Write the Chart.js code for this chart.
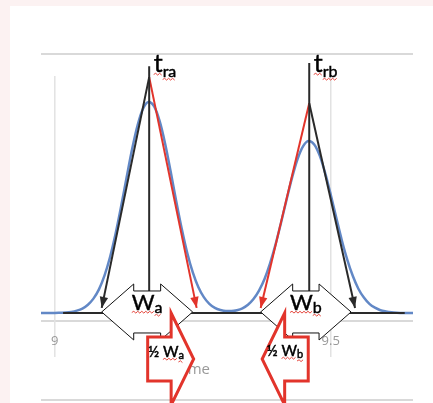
<!DOCTYPE html>
<html><head><meta charset="utf-8">
<script src="https://cdn.jsdelivr.net/npm/chart.js@4"></script>
<style>
html,body{margin:0;padding:0;background:#fcf2f2;}
#wrap{position:relative;width:433px;height:403px;overflow:hidden;}
#panel{position:absolute;left:10px;top:6px;right:0;bottom:0;background:#fff;}
canvas{position:absolute;left:0;top:0;}
</style></head><body>
<div id="wrap"><div id="panel"></div><canvas id="c" width="433" height="403"></canvas></div>
<script>
// ---- data (time axis units / relative detector response) ----
const times = [8.97,8.98,8.99,9.00,9.01,9.02,9.03,9.04,9.05,9.06,9.07,9.08,9.09,9.10,9.11,9.12,9.13,9.14,9.15,9.16,9.17,9.18,9.19,9.20,9.21,9.22,9.23,9.24,9.25,9.26,9.27,9.28,9.29,9.30,9.31,9.32,9.33,9.34,9.35,9.36,9.37,9.38,9.39,9.40,9.41,9.42,9.43,9.44,9.45,9.46,9.47,9.48,9.49,9.50,9.51,9.52,9.53,9.54,9.55,9.56,9.57,9.58,9.59,9.60,9.61,9.62,9.63,9.64,9.65];
const signal = [0,0,0,0,0.001,0.002,0.005,0.011,0.021,0.039,0.068,0.112,0.177,0.264,0.374,0.503,0.641,0.776,0.890,0.969,1.000,0.979,0.909,0.801,0.669,0.530,0.399,0.284,0.192,0.123,0.075,0.043,0.024,0.014,0.009,0.009,0.013,0.022,0.039,0.066,0.106,0.161,0.235,0.325,0.429,0.538,0.643,0.731,0.791,0.815,0.799,0.746,0.662,0.560,0.451,0.345,0.252,0.175,0.115,0.073,0.043,0.025,0.013,0.007,0.003,0.001,0,0,0];
const tickValues = [9, 9.5];
const tickLabels = ['9', '9.5'];
const axisTitle = 'Time';
const peakNames = ['a', 'b'];
const peakTimes = [9.171, 9.461];      // retention times t_ra, t_rb
const retentionTop = [1.170, 1.185];   // top of retention-time markers
const tangentApex = [1.118, 0.994];    // where the tangents meet
const baseLeft = [9.085, 9.373];       // tangent / baseline intersections
const baseRight = [9.257, 9.544];
const tangentFoot = 0.024;
const baselineSpan = [9.015, 9.634];
const xRange = [8.975, 9.649];
const yRange = [-0.038, 1.2275];

// ---- styles ----
const BLACK = '#2a2a2a', RED = '#e2342b', BLUE = '#6288c6';
const leftColors = [BLACK, RED], rightColors = [RED, BLACK];

const lineDS = (pts, color, order, w) => ({data: pts, showLine: true, borderColor: color, backgroundColor: color,
  borderWidth: w || 2, pointRadius: 0, order: order, tension: 0});

const datasets = [];
datasets.push(Object.assign(lineDS(times.map((t, i) => ({x: t, y: signal[i]})), BLUE, 10, 2.5),
  {cubicInterpolationMode: 'monotone'}));
datasets.push(lineDS(baselineSpan.map(t => ({x: t, y: 0})), BLACK, 5, 2));
const tangentIdx = [];
peakTimes.forEach((t, i) => {
  tangentIdx.push(datasets.length);
  datasets.push(lineDS([{x: t, y: tangentApex[i]}, {x: baseLeft[i], y: tangentFoot}], leftColors[i], 2, 2));
  tangentIdx.push(datasets.length);
  datasets.push(lineDS([{x: t, y: tangentApex[i]}, {x: baseRight[i], y: tangentFoot}], rightColors[i], 2, 2));
  datasets.push(lineDS([{x: t, y: retentionTop[i]}, {x: t, y: 0}], BLACK, 1, 2));
});

function seg(ctx, x1, y1, x2, y2) { ctx.beginPath(); ctx.moveTo(x1, y1); ctx.lineTo(x2, y2); ctx.stroke(); }
function wavy(ctx, x1, x2, y) {
  ctx.save(); ctx.strokeStyle = '#e5453c'; ctx.lineWidth = 1; ctx.beginPath();
  let up = true; ctx.moveTo(x1, y);
  for (let xx = x1 + 2; xx <= x2; xx += 2) { ctx.lineTo(xx, up ? y - 1.2 : y + 0.6); up = !up; }
  ctx.stroke(); ctx.restore();
}
function heavyText(ctx, s, x, y) {
  ctx.fillText(s, x, y);
  ctx.lineWidth = 0.45; ctx.strokeStyle = '#000'; ctx.strokeText(s, x, y);
}
function subText(ctx, x, y, main, sub, mainFont, subFont, drop, align, squiggleFrom) {
  ctx.font = mainFont; const wm = ctx.measureText(main).width;
  ctx.font = subFont; const ws = ctx.measureText(sub).width;
  const total = wm + ws;
  let sx = align === 'center' ? x - total / 2 : align === 'right' ? x - total : x;
  ctx.fillStyle = '#000'; ctx.textBaseline = 'alphabetic'; ctx.textAlign = 'left';
  ctx.font = mainFont; heavyText(ctx, main, sx, y);
  ctx.font = subFont; heavyText(ctx, sub, sx + wm, y + drop);
  let sqStart = sx;
  if (squiggleFrom) { ctx.font = mainFont; sqStart = sx + ctx.measureText(squiggleFrom).width; }
  wavy(ctx, sqStart, sx + wm, y + 2.5);
  wavy(ctx, sx + wm, sx + total, y + drop + 2.5);
}
function lrArrow(ctx, xl, xr, yc, hl, hh, sh) {
  ctx.beginPath();
  ctx.moveTo(xl, yc); ctx.lineTo(xl + hl, yc - hh); ctx.lineTo(xl + hl, yc - sh);
  ctx.lineTo(xr - hl, yc - sh); ctx.lineTo(xr - hl, yc - hh); ctx.lineTo(xr, yc);
  ctx.lineTo(xr - hl, yc + hh); ctx.lineTo(xr - hl, yc + sh); ctx.lineTo(xl + hl, yc + sh);
  ctx.lineTo(xl + hl, yc + hh); ctx.closePath();
  ctx.fillStyle = '#fff'; ctx.fill(); ctx.strokeStyle = '#111'; ctx.lineWidth = 1; ctx.stroke();
}
function blockArrow(ctx, xTail, xTip, yc, hl, hh, sh) {
  const d = Math.sign(xTip - xTail), xb = xTip - d * hl;
  ctx.beginPath();
  ctx.moveTo(xTail, yc - sh); ctx.lineTo(xb, yc - sh); ctx.lineTo(xb, yc - hh); ctx.lineTo(xTip, yc);
  ctx.lineTo(xb, yc + hh); ctx.lineTo(xb, yc + sh); ctx.lineTo(xTail, yc + sh); ctx.closePath();
  ctx.fillStyle = '#fff'; ctx.fill(); ctx.strokeStyle = RED; ctx.lineWidth = 3; ctx.lineJoin = 'miter'; ctx.stroke();
}

const decor = {
  id: 'decor',
  beforeDraw(chart) {
    const {ctx, chartArea: a, scales: {x}} = chart;
    ctx.save();
    ctx.strokeStyle = '#d9d9d9'; ctx.lineWidth = 2;
    [a.top, a.bottom, chart.height - 3].forEach(yy => seg(ctx, a.left, yy, a.right, yy));
    ctx.strokeStyle = '#e2e2e2'; ctx.lineWidth = 1.5;
    tickValues.forEach(v => { const px = x.getPixelForValue(v); seg(ctx, px, a.top + 22, px, a.bottom + 36); });
    ctx.restore();
  },
  beforeDatasetsDraw(chart) {
    const {ctx, chartArea: a, scales: {x}} = chart;
    ctx.save();
    const cx = x.getPixelForValue((tickValues[0] + tickValues[1]) / 2);
    ctx.font = '15px "Open Sans"'; ctx.fillStyle = '#999'; ctx.textAlign = 'center'; ctx.textBaseline = 'middle';
    ctx.fillText(axisTitle, cx, a.bottom + 49);
    ctx.restore();
  },
  afterDatasetsDraw(chart) {
    const {ctx, chartArea: a, scales: {x, y}} = chart;
    ctx.save();
    // arrowheads on tangents
    tangentIdx.forEach(di => {
      const meta = chart.getDatasetMeta(di), p0 = meta.data[0], p1 = meta.data[1];
      const ang = Math.atan2(p1.y - p0.y, p1.x - p0.x), L = 11, W = 4.2;
      ctx.fillStyle = chart.data.datasets[di].borderColor;
      ctx.beginPath(); ctx.moveTo(p1.x, p1.y);
      ctx.lineTo(p1.x - L * Math.cos(ang) + W * Math.sin(ang), p1.y - L * Math.sin(ang) - W * Math.cos(ang));
      ctx.lineTo(p1.x - L * Math.cos(ang) - W * Math.sin(ang), p1.y - L * Math.sin(ang) + W * Math.cos(ang));
      ctx.closePath(); ctx.fill();
    });
    const y0 = y.getPixelForValue(0);
    // retention labels
    peakTimes.forEach((t, i) => {
      subText(ctx, x.getPixelForValue(t) + 4.5, a.top + 18, 't', 'r' + peakNames[i],
        '25px Lato', '16px Lato', 5, 'left');
    });
    // W double arrows
    peakTimes.forEach((t, i) => {
      const xl = x.getPixelForValue(baseLeft[i]), xr = x.getPixelForValue(baseRight[i]) - 4;
      lrArrow(ctx, xl, xr, y0 - 1, 32, 28, 21);
      subText(ctx, (xl + xr) / 2, y0 - 3, 'W', peakNames[i], '22px Lato', '16px Lato', 3, 'center');
    });
    // half-width block arrows
    const yc = y0 + 46;
    {
      const xt = x.getPixelForValue(peakTimes[0]) - 1.5, xp = x.getPixelForValue(baseRight[0]) - 3;
      blockArrow(ctx, xt, xp, yc, 22.5, 46, 22);
      subText(ctx, xt + 0.5, yc - 2, '\u00BD W', peakNames[0], '15px Lato', '11px Lato', 2.5, 'left', '\u00BD ');
    }
    {
      const xt = x.getPixelForValue(peakTimes[1]) - 1, xp = x.getPixelForValue(baseLeft[1]) + 1.5;
      blockArrow(ctx, xt, xp, yc, 22.5, 46, 22);
      subText(ctx, xt - 5, yc - 3, '\u00BD W', peakNames[1], '15px Lato', '11px Lato', 2.5, 'right', '\u00BD ');
    }
    ctx.restore();
  }
};

new Chart(document.getElementById('c'), {
  type: 'scatter',
  data: {datasets},
  options: {
    responsive: false, animation: false,
    layout: {padding: {left: 41, right: 20, top: 54, bottom: 0}},
    plugins: {legend: {display: false}, tooltip: {enabled: false}},
    scales: {
      x: {type: 'linear', min: xRange[0], max: xRange[1],
        afterBuildTicks: s => { s.ticks = tickValues.map(v => ({value: v})); },
        afterFit: s => { s.height = 82; },
        ticks: {callback: v => tickLabels[tickValues.indexOf(v)], color: '#999',
          font: {family: '"Open Sans"', size: 13}, padding: 12, maxRotation: 0, autoSkip: false},
        grid: {display: false, drawTicks: false}, border: {display: false}},
      y: {display: false, min: yRange[0], max: yRange[1]}
    }
  },
  plugins: [decor]
});
</script>
</body></html>
